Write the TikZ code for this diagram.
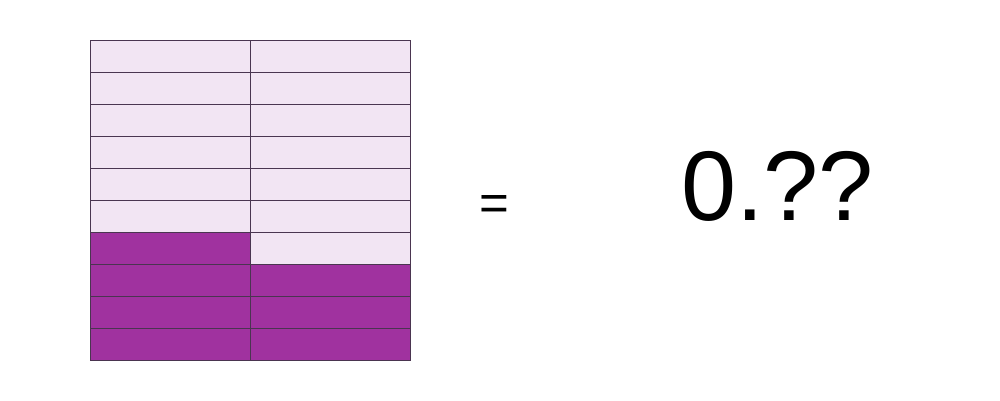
\documentclass[tikz,border=0pt]{standalone}
\usepackage{fontspec}
\setmainfont{Liberation Sans}
\definecolor{lightp}{HTML}{F2E5F3}
\definecolor{darkp}{HTML}{A0329F}
\definecolor{gridline}{HTML}{4A3550}
\begin{document}
\begin{tikzpicture}[x=1pt,y=-1pt,
  cell/.style={draw=gridline,line width=1pt},
  txt/.style={inner sep=0pt,anchor=base west,text=black}]
\useasboundingbox (0,0) rectangle (1000,400);
% light background of the grid
\fill[lightp] (90,40) rectangle (410,360);
% dark cells: bottom three rows and left cell of the fourth row from bottom
\fill[darkp] (90,264) rectangle (410,360);
\fill[darkp] (90,232) rectangle (250,264);
\foreach \r in {1,...,9}{
  \draw[cell] (90,40+32*\r) -- (410,40+32*\r);
}
\draw[cell] (250,40) -- (250,360);
\draw[cell] (90,40) rectangle (410,360);
\node[txt,font=\fontsize{51}{51}\selectfont] (eq) at (479.5,220) {=};
\node[txt,font=\fontsize{99}{99}\selectfont] (val) at (681,220) {0.??};
\end{tikzpicture}
\end{document}
